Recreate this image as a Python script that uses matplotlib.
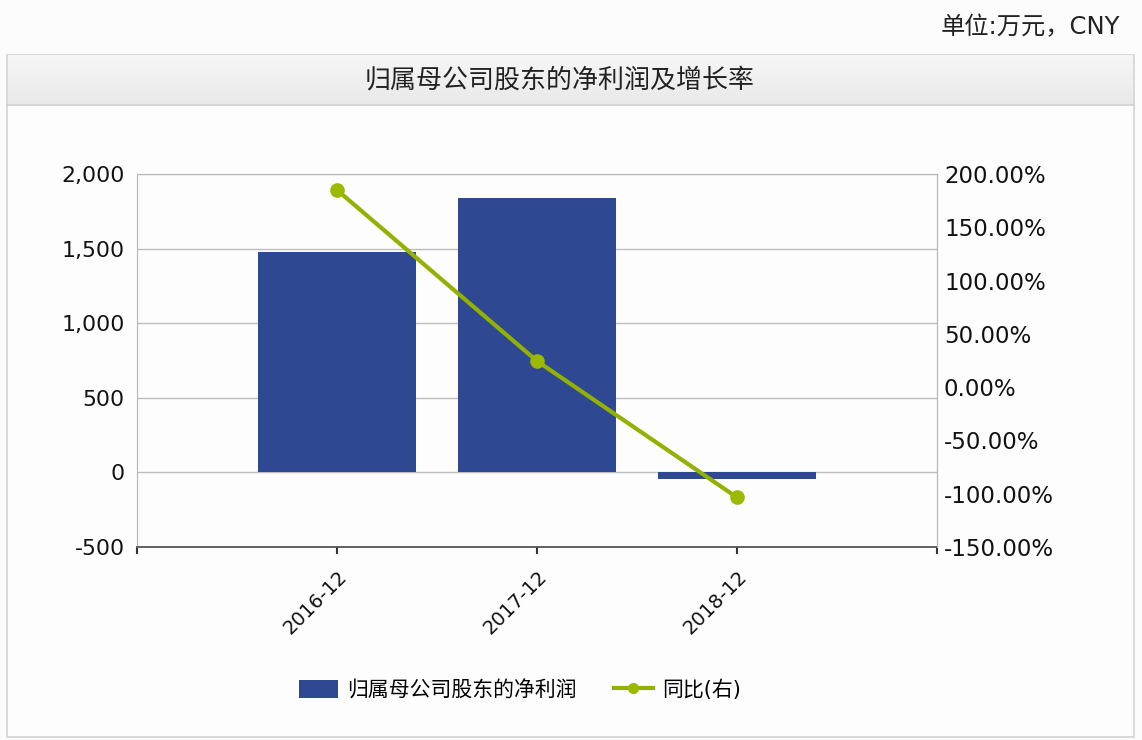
import numpy as np
import matplotlib
matplotlib.use("Agg")
import matplotlib.pyplot as plt
from matplotlib.patches import Rectangle, Patch
from matplotlib.lines import Line2D

plt.rcParams['font.family'] = ['DejaVu Sans', 'Noto Sans CJK SC']

# ===== данные =====
periods = ['2016-12', '2017-12', '2018-12']
net_profit = [1480, 1841, -42]          # 万元
yoy_growth = [185.0, 24.5, -103.5]      # %
left_ticks = [-500, 0, 500, 1000, 1500, 2000]
right_ticks = [-150, -100, -50, 0, 50, 100, 150, 200]

title = '归属母公司股东的净利润及增长率'
unit_text = '单位:万元，CNY'
bar_label = '归属母公司股东的净利润'
line_label = '同比(右)'

bar_color = '#2e4891'
line_color = '#93b100'

W, H = 1142, 740
fig = plt.figure(figsize=(W / 100, H / 100), dpi=100)
fig.patch.set_facecolor('#fcfcfd')

def fx(px):
    return px / W

def fy(py):
    return 1 - py / H

# ===== рамка и шапка =====
fig.patches.append(Rectangle((fx(7), fy(737)), fx(1127), (737 - 55) / H,
                             transform=fig.transFigure, facecolor='#fdfdfe',
                             edgecolor='#d4d4d4', linewidth=1.2, zorder=0))
band = fig.add_axes([fx(8), fy(105), fx(1125), 50 / H], zorder=1)
grad = np.linspace(0, 1, 100).reshape(-1, 1)
band.imshow(grad, aspect='auto', cmap=matplotlib.colors.LinearSegmentedColormap.from_list(
    'g', ['#f6f6f6', '#e9e9e9']), extent=[0, 1, 0, 1])
band.set_axis_off()
fig.add_artist(Line2D([fx(7), fx(1134)], [fy(105), fy(105)], transform=fig.transFigure,
                      color='#d0d0d0', linewidth=1.2, zorder=2))
fig.text(0.49, fy(80), title, ha='center', va='center', fontsize=18.7, color='#222222', zorder=3)
fig.text(fx(1120), fy(27), unit_text, ha='right', va='center', fontsize=17.5, color='#222222')

# ===== основной график =====
ax = fig.add_axes([fx(137), fy(547), fx(800), 373 / H], zorder=2)
ax.set_facecolor('none')
x = np.arange(len(periods))
ax.bar(x, net_profit, width=0.79, color=bar_color, zorder=2)
ax.set_xlim(-1, 3)
ax.set_ylim(-500, 2000)
ax.set_yticks(left_ticks)
ax.set_yticklabels([f'{v:,}' for v in left_ticks], fontsize=15.8, color='#111111')
ax.tick_params(axis='y', length=0, pad=9)
ax.yaxis.grid(True, color='#bdbdbd', linewidth=1)
ax.set_axisbelow(True)

ax.set_xticks([-1, 0, 1, 2, 3])
ax.set_xticklabels([''] + periods + [''], fontsize=14, color='#111111',
                   rotation=45, ha='right', rotation_mode='anchor')
ax.tick_params(axis='x', length=5, width=1.5, color='#333333', pad=9)

for s in ['left', 'top', 'right']:
    ax.spines[s].set_color('#b5b5b5')
ax.spines['bottom'].set_color('#555555')
ax.spines['bottom'].set_linewidth(1.3)

ax2 = ax.twinx()
ax2.plot(x, yoy_growth, color=line_color, linewidth=3, marker='o',
         markersize=9.5, markerfacecolor='#9cb800', markeredgecolor='#9cb800', zorder=5)
ax2.set_ylim(-150, 200)
ax2.set_yticks(right_ticks)
ax2.set_yticklabels([f'{v:.2f}%' for v in right_ticks], fontsize=16.5, color='#111111')
ax2.tick_params(axis='y', length=0, pad=5)
for s in ['left', 'top', 'bottom']:
    ax2.spines[s].set_visible(False)
ax2.spines['right'].set_color('#b5b5b5')

# ===== легенда =====
handles = [Patch(facecolor=bar_color, edgecolor='none'),
           Line2D([0], [0], color=line_color, linewidth=3, marker='o', markersize=7,
                  markerfacecolor='#9cb800', markeredgecolor='#9cb800')]
fig.legend(handles, [bar_label, line_label], loc='center', bbox_to_anchor=(fx(520), fy(690)),
           ncol=2, frameon=False, fontsize=15, handlelength=1.85, handleheight=1.0,
           columnspacing=1.8, handletextpad=0.45)

fig.savefig('out.png', dpi=100, facecolor=fig.get_facecolor())
